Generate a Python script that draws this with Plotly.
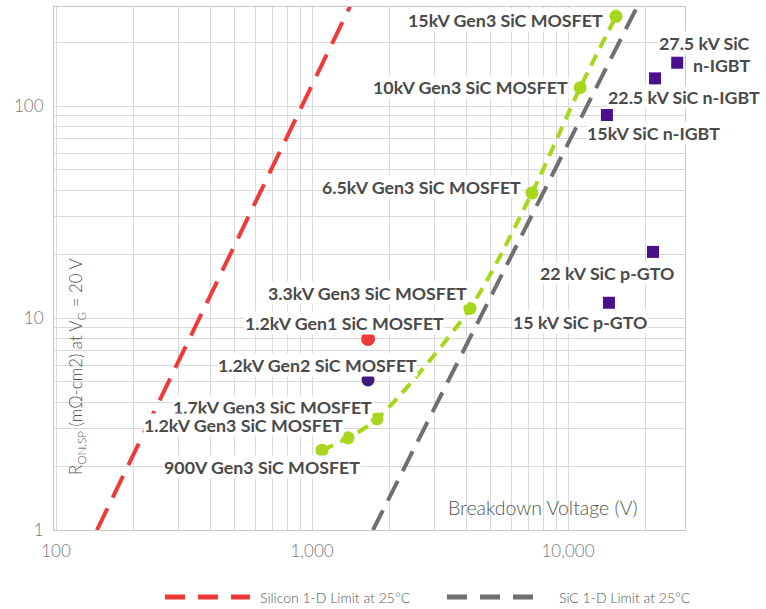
import plotly.graph_objects as go

# ---------------- data ----------------
si_limit_bv = [144.5, 1406]
si_limit_ron = [1, 294]
sic_limit_bv = [1730, 18620]
sic_limit_ron = [1, 294]

gen3_names = ["900V Gen3 SiC MOSFET", "1.2kV Gen3 SiC MOSFET", "1.7kV Gen3 SiC MOSFET",
              "3.3kV Gen3 SiC MOSFET", "6.5kV Gen3 SiC MOSFET", "10kV Gen3 SiC MOSFET",
              "15kV Gen3 SiC MOSFET"]
gen3_bv = [1094, 1383, 1795, 4140, 7230, 11150, 15400]
gen3_ron = [2.38, 2.72, 3.34, 11.1, 38.9, 122, 265]

gen1_name = ["1.2kV Gen1 SiC MOSFET"]
gen1_bv = [1655]
gen1_ron = [7.96]

gen2_name = ["1.2kV Gen2 SiC MOSFET"]
gen2_bv = [1655]
gen2_ron = [5.10]

bip_names = ["15kV SiC n-IGBT", "22.5 kV SiC n-IGBT", "27.5 kV SiC n-IGBT",
             "22 kV SiC p-GTO", "15 kV SiC p-GTO"]
bip_bv = [14190, 21880, 26700, 21480, 14450]
bip_ron = [90.7, 135, 160, 20.5, 11.8]

x_ticks = [100, 1000, 10000]
x_ticklabels = ["100", "1,000", "10,000"]
y_ticks = [1, 10, 100]
y_ticklabels = ["1", "10", "100"]

legend_names = ["Silicon 1-D Limit at 25°C", "SiC 1-D Limit at 25°C"]

# ---------------- styling ----------------
W, H = 766, 609
L, R, T, B = 54, 685, 7, 530
RED = "#F03A3A"
GRAY = "#6F6F6F"
GREEN = "#A6D71C"
PURPLE = "#3F1A7A"
SQ = "#4A0F8C"
LBL = "#4A4A4A"
FONT = "Lato"


def paper(px, py):
    return (px - L) / (R - L), (B - py) / (B - T)


fig = go.Figure()

fig.add_trace(go.Scatter(x=si_limit_bv, y=si_limit_ron, mode="lines",
                         line=dict(color=RED, width=4, dash="24px,12px"),
                         showlegend=False, hoverinfo="skip"))
fig.add_trace(go.Scatter(x=sic_limit_bv, y=sic_limit_ron, mode="lines",
                         line=dict(color=GRAY, width=4, dash="22px,11px"),
                         showlegend=False, hoverinfo="skip"))
fig.add_trace(go.Scatter(x=gen3_bv, y=gen3_ron, mode="lines+markers",
                         line=dict(color=GREEN, width=4, dash="12px,8px", shape="spline", smoothing=0.8),
                         marker=dict(color=GREEN, size=13), showlegend=False, text=gen3_names))
fig.add_trace(go.Scatter(x=gen1_bv, y=gen1_ron, mode="markers",
                         marker=dict(color=RED, size=14), showlegend=False, text=gen1_name))
fig.add_trace(go.Scatter(x=gen2_bv, y=gen2_ron, mode="markers",
                         marker=dict(color=PURPLE, size=13), showlegend=False, text=gen2_name))
fig.add_trace(go.Scatter(x=bip_bv, y=bip_ron, mode="markers",
                         marker=dict(color=SQ, size=12, symbol="square"), showlegend=False,
                         text=bip_names))

# labels: (text, anchor px, center py, xanchor)
labels = [
    (gen3_names[6], 505, 20, "center"),
    (gen3_names[5], 470, 87, "center"),
    (gen3_names[4], 421, 187, "center"),
    (gen3_names[3], 367, 293, "center"),
    (gen1_name[0], 344, 323, "center"),
    (gen2_name[0], 317, 365, "center"),
    (gen3_names[2], 272, 407, "center"),
    (gen3_names[1], 243, 425, "center"),
    (gen3_names[0], 262, 467, "center"),
    (bip_names[0], 653, 133, "center"),
    (bip_names[1], 684, 97, "center"),
    (bip_names[3], 607, 273, "center"),
    (bip_names[4], 580, 322, "center"),
    ("27.5 kV SiC", 751, 43, "right"),
    ("n-IGBT", 751, 65, "right"),
]
for txt, px, py, anc in labels:
    x, y = paper(px, py)
    fig.add_annotation(text=txt, x=x, y=y, xref="paper", yref="paper",
                       xanchor=anc, yanchor="middle", showarrow=False,
                       bgcolor="white", borderpad=0,
                       font=dict(family=FONT, size=17.8, color=LBL, weight="bold"))

# axis titles inside plot
x, y = paper(543, 507)
fig.add_annotation(text="Breakdown Voltage (V)", x=x, y=y, xref="paper", yref="paper",
                   xanchor="center", yanchor="middle", showarrow=False,
                   font=dict(family=FONT, size=19.5, color="#555", weight=300))
x, y = paper(77, 367)
fig.add_annotation(text="R<sub>ON,SP</sub> (mΩ-cm2) at V<sub>G</sub> = 20 V", x=x, y=y,
                   xref="paper", yref="paper", textangle=-90, showarrow=False,
                   xanchor="center", yanchor="middle",
                   font=dict(family=FONT, size=16.8, color="#555", weight=300))

# manual legend
for (x0, x1, col, dash), name, tx in zip(
        [(165, 250, RED, "20px,13px"), (447, 533, GRAY, "20px,13px")], legend_names, [258, 557]):
    a, yy = paper(x0, 597)
    b, _ = paper(x1, 597)
    fig.add_shape(type="line", xref="paper", yref="paper", x0=a, x1=b, y0=yy, y1=yy,
                  line=dict(color=col, width=5, dash=dash))
    t, _ = paper(tx, 597)
    fig.add_annotation(text=name, x=t, y=yy, xref="paper", yref="paper", xanchor="left",
                       yanchor="middle", showarrow=False,
                       font=dict(family=FONT, size=14, color="#555", weight=300))

grid = "#DADADA"
common = dict(type="log", showgrid=True, gridcolor=grid, gridwidth=1,
              minor=dict(dtick="D1", showgrid=True, gridcolor=grid, gridwidth=1),
              showline=True, linecolor="#C8C8C8", linewidth=1, mirror=True,
              ticks="", automargin=False,
              tickfont=dict(family=FONT, size=17, color="#777", weight=300), zeroline=False)
fig.update_xaxes(range=[1.992, 4.457], tickvals=x_ticks, ticktext=x_ticklabels,
                 ticklabelstandoff=6, **common)
fig.update_yaxes(range=[0, 2.467], tickvals=y_ticks, ticktext=y_ticklabels,
                 ticklabelstandoff=6, **common)

fig.update_layout(width=W, height=H, margin=dict(l=L, r=W - R, t=T, b=H - B, autoexpand=False),
                  paper_bgcolor="white", plot_bgcolor="white", showlegend=False)

fig.write_html("out.html", config={"displayModeBar": False},
               post_script="document.body.style.margin='0px';document.body.style.overflow='hidden';")
